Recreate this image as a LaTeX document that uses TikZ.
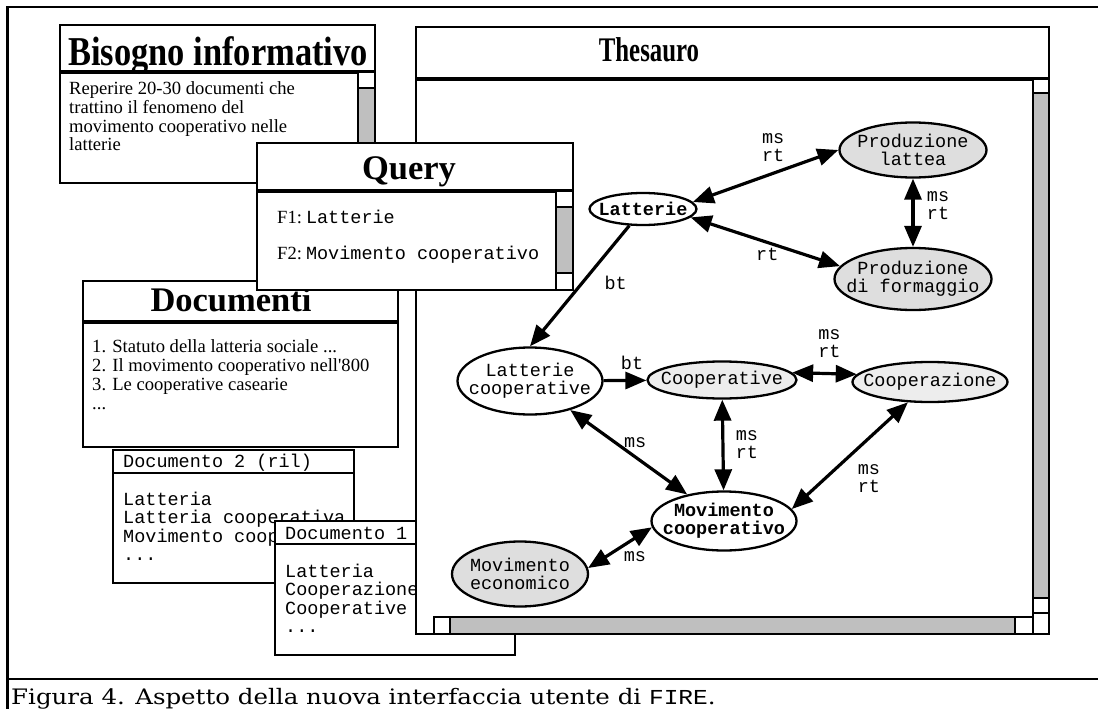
\documentclass[tikz,border=0pt]{standalone}
\usepackage{fontspec}
\setmainfont{Liberation Serif}
\setmonofont{Liberation Mono}
\newfontfamily\capfont{DejaVu Serif}
\usepackage{graphicx}
\usetikzlibrary{shapes.geometric,arrows.meta}

\definecolor{bargray}{gray}{0.75}
\definecolor{termdark}{gray}{0.87}
\definecolor{termlight}{gray}{0.93}

\newcommand{\titlefont}{\bfseries\fontsize{34.5}{36}\selectfont}
\newcommand{\bodyfont}{\fontsize{18.6}{19}\selectfont}
\newcommand{\termfont}{\ttfamily\fontsize{18.5}{18}\selectfont}

\tikzset{
  win/.style={draw, line width=2.5pt, fill=white},
  sep/.style={line width=3.5pt},
  bar/.style={draw, line width=2.2pt, fill=bargray},
  sq/.style={draw, line width=2.2pt, fill=white},
  term/.style={ellipse, draw, line width=2.3pt, inner sep=-80pt, align=center, font=\termfont},
  rel/.style={font=\termfont, align=center, inner sep=0pt},
  line/.style={font=\termfont, anchor=base west, inner sep=0pt},
  prose/.style={font=\bodyfont, anchor=base west, inner sep=0pt},
  link/.style={line width=3.2pt, {Triangle[length=21pt,width=17pt]}-{Triangle[length=21pt,width=17pt]}},
  onelink/.style={line width=3.2pt, -{Triangle[length=21pt,width=17pt]}},
}

\begin{document}
\begin{tikzpicture}[x=1pt,y=-1pt]
\useasboundingbox (0,0) rectangle (1098,709);

% cornice
\draw[line width=2.7pt] (1098,7) -- (7.5,7) -- (7.5,709);
\draw[line width=2.7pt] (7.5,679) -- (1098,679);

% bisogno informativo
\draw[win] (60,25) rectangle (375,183);
\draw[sep] (60,72) -- (375,72);
\draw[sq] (358,72) rectangle (375,88);
\draw[bar] (358,88) rectangle (375,183);
\node[font=\bfseries\fontsize{41}{42}\selectfont, anchor=base] (bis-title) at (218,66) {\scalebox{0.84}[1]{Bisogno informativo}};
\foreach \t [count=\i] in {Reperire 20-30 documenti che, trattino il fenomeno del,
                           movimento cooperativo nelle, latterie}{
	\node[prose] (bis-\i) at (69,{95+18.5*(\i-1)}) {\t};
}

% documento 2
\draw[win] (113,450) rectangle (354,583);
\draw[line width=2.5pt] (113,473) -- (354,473);
\node[line] (d2-head) at (123,467) {Documento 2 (ril)};
\node[line] (d2-1) at (123,505) {Latteria};
\node[line] (d2-2) at (123,523.5) {Latteria cooperativa};
\node[line] (d2-3) at (123,542) {Movimento cooperativo};
\node[line] (d2-4) at (123,560.5) {...};

% documento 1
\draw[win] (275,521) rectangle (515,655);
\draw[line width=2.5pt] (275,544) -- (515,544);
\node[line] (d1-head) at (285,539) {Documento 1};
\node[line] (d1-1) at (285,577) {Latteria};
\node[line] (d1-2) at (285,595.5) {Cooperazione};
\node[line] (d1-3) at (285,614) {Cooperative};
\node[line] (d1-4) at (285,632.5) {...};

% thesauro
\draw[win] (416,27) rectangle (1049,634);
\draw[sep] (416,79) -- (1049,79);
\draw[sq] (1033,79) rectangle (1049,93);
\draw[bar] (1033,93) rectangle (1049,598);
\draw[sq] (1033,598) rectangle (1049,613);
\draw[sq] (1033,613) rectangle (1049,634);
\draw[sq] (434,617) rectangle (450,634);
\draw[bar] (450,617) rectangle (1015,634);
\draw[sq] (1015,617) rectangle (1033,634);
\node[font=\titlefont, anchor=base] (the-title) at (649,62) {\scalebox{0.72}[1]{Thesauro}};

% termini
\node[term, minimum width=107pt, minimum height=32pt] (lat) at (643,209) {\bfseries Latterie};
\node[term, fill=termdark, minimum width=147pt, minimum height=55pt] (plat) at (913,150) {Produzione\\lattea};
\node[term, fill=termdark, minimum width=157pt, minimum height=62pt] (pform) at (913,279) {Produzione\\di formaggio};
\node[term, minimum width=145pt, minimum height=67pt] (latc) at (530,381) {Latterie\\cooperative};
\node[term, fill=termlight, minimum width=149pt, minimum height=37pt] (coop) at (722,380) {Cooperative};
\node[term, fill=termlight, minimum width=155pt, minimum height=40pt] (cooz) at (930,382) {Cooperazione};
\node[term, minimum width=145pt, minimum height=59pt] (movc) at (724,521) {\bfseries Movimento\\\bfseries cooperativo};
\node[term, fill=termdark, minimum width=136pt, minimum height=65pt] (move) at (520,574) {Movimento\\economico};

% relazioni
\draw[link] (lat.8) -- node[rel, xshift=7.5pt, yshift=28pt] {ms\\rt} (plat.west);
\draw[link] (lat.-10) -- node[rel, xshift=2pt, yshift=-12.5pt] {rt} (pform.170);
\draw[link] (plat) -- node[rel, xshift=25pt, yshift=7pt] {ms\\rt} (pform);
\draw[onelink] (lat) -- node[rel, xshift=36pt, yshift=3pt] {bt} (latc.north);
\draw[onelink] (latc) -- node[rel, xshift=7pt, yshift=18pt] {bt} (coop);
\draw[link] (coop.6) -- node[rel, xshift=5pt, yshift=30pt] {ms\\rt} (cooz.174);
\draw[link] (latc) -- node[rel, xshift=6.5pt, yshift=10pt] {ms} (movc);
\draw[link] (coop) -- node[rel, xshift=24pt] {ms\\rt} (movc);
\draw[link] (cooz) -- node[rel, xshift=19pt, yshift=-23pt] {ms\\rt} (movc.10);
\draw[link] (move.5) -- node[rel, xshift=15pt, yshift=-9pt] {ms} (movc.185);

% documenti
\draw[win] (83,281) rectangle (398,447);
\draw[sep] (83,322) -- (398,322);
\node[font=\titlefont, anchor=base] (doc-title) at (231,311) {Documenti};
\node[prose] (doc-1) at (92,352) {1. Statuto della latteria sociale ...};
\node[prose] (doc-2) at (92,371) {2. Il movimento cooperativo nell\textquotesingle 800};
\node[prose] (doc-3) at (92,390) {3. Le cooperative casearie};
\node[prose] (doc-4) at (92,409) {...};

% query
\draw[win] (257,143) rectangle (573,290);
\draw[sep] (257,191) -- (573,191);
\draw[sq] (556,191) rectangle (573,207);
\draw[bar] (556,207) rectangle (573,273);
\draw[sq] (556,273) rectangle (573,290);
\node[font=\titlefont, anchor=base] (q-title) at (409,179) {Query};
\node[prose] (q-1) at (277,223) {F1:\hspace{4pt}{\termfont Latterie}};
\node[prose] (q-2) at (277,259) {F2:\hspace{4pt}{\termfont Movimento cooperativo}};

% didascalia
\node[font=\capfont\fontsize{21.3}{22}\selectfont, anchor=base west, inner sep=0pt] (caption) at (11,704)
	{\scalebox{1.15}[1]{Figura 4. Aspetto della nuova interfaccia utente di {\termfont\fontsize{21.3}{22}\selectfont FIRE}.}};

\end{tikzpicture}
\end{document}
